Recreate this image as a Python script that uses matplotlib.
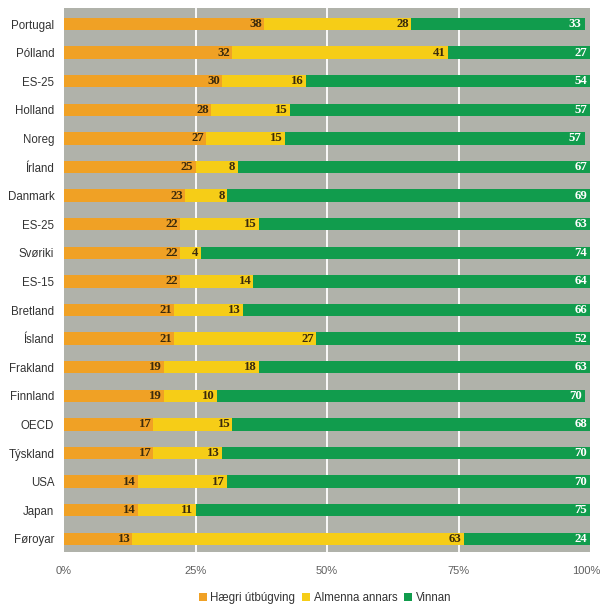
import matplotlib
matplotlib.use("Agg")
import matplotlib.pyplot as plt
import matplotlib.transforms as mtransforms
from matplotlib.patches import Patch

categories = ["Portugal", "Pólland", "ES-25", "Holland", "Noreg", "Írland", "Danmark",
              "ES-25", "Svøriki", "ES-15", "Bretland", "Ísland", "Frakland", "Finnland",
              "OECD", "Týskland", "USA", "Japan", "Føroyar"]
haegri = [38, 32, 30, 28, 27, 25, 23, 22, 22, 22, 21, 21, 19, 19, 17, 17, 14, 14, 13]
almenna = [28, 41, 16, 15, 15, 8, 8, 15, 4, 14, 13, 27, 18, 10, 15, 13, 17, 11, 63]
vinnan = [33, 27, 54, 57, 57, 67, 69, 63, 74, 64, 66, 52, 63, 70, 68, 70, 70, 75, 24]
series_names = ["Hægri útbúgving", "Almenna annars", "Vinnan"]
xticks = [0, 25, 50, 75, 100]
xticklabels = ["0%", "25%", "50%", "75%", "100%"]

c_orange = "#f0a125"
c_yellow = "#f6cd17"
c_green = "#119c4d"
c_bg = "#b0b2aa"
c_dark = "#3a2a0c"

fig = plt.figure(figsize=(6.02, 6.04), dpi=100)
fig.patch.set_facecolor("white")
ax = fig.add_axes([64/602, 52/604, 526/602, 544/604])
ax.set_facecolor(c_bg)

ypos = list(range(len(categories)))
h = 0.43
lefts2 = [a for a in haegri]
lefts3 = [a + b for a, b in zip(haegri, almenna)]
ax.barh(ypos, haegri, height=h, color=c_orange, zorder=3)
ax.barh(ypos, almenna, left=lefts2, height=h, color=c_yellow, zorder=3)
ax.barh(ypos, vinnan, left=lefts3, height=h, color=c_green, zorder=3)

for x in [25, 50, 75]:
    ax.axvline(x, color="white", lw=1.3, zorder=1)

numfont = dict(family="Liberation Serif", fontsize=9.2, fontweight="bold")
for i in ypos:
    e1 = haegri[i]
    e2 = haegri[i] + almenna[i]
    e3 = min(100, e2 + vinnan[i])
    ax.annotate(str(haegri[i]), (e1, i), xytext=(-1.5, 0), textcoords="offset points",
                ha="right", va="center", color=c_dark, zorder=4, **numfont)
    ax.annotate(str(almenna[i]), (e2, i), xytext=(-1.5, 0), textcoords="offset points",
                ha="right", va="center", color=c_dark, zorder=4, **numfont)
    ax.annotate(str(vinnan[i]), (e3, i), xytext=(-2.2, 0), textcoords="offset points",
                ha="right", va="center", color="white", zorder=4, **numfont)

ax.set_xlim(0, 100)
ax.set_ylim(len(categories) - 1 + 0.46, -0.56)
ax.set_yticks(ypos)
ax.set_yticklabels(categories, family="Liberation Sans", fontsize=8.3, color="#333333")
ax.set_xticks(xticks)
ax.set_xticklabels(xticklabels, family="Liberation Sans", fontsize=8.0, color="#606060")
ax.tick_params(axis="both", length=0)
ax.tick_params(axis="y", pad=7)
ax.tick_params(axis="x", pad=10)
for s in ax.spines.values():
    s.set_visible(False)

last = ax.get_xticklabels()[-1]
last.set_transform(last.get_transform() + mtransforms.ScaledTranslation(-4/100, 0, fig.dpi_scale_trans))

handles = [Patch(facecolor=c, edgecolor="none") for c in [c_orange, c_yellow, c_green]]
fig.legend(handles, series_names, loc="center", bbox_to_anchor=(325/602, 1 - 598/604),
           ncol=3, frameon=False, handlelength=0.7, handleheight=0.7, handletextpad=0.3,
           columnspacing=0.6, prop=dict(family="Liberation Sans", size=8.3))
for t in fig.legends[0].get_texts():
    t.set_color("#333333")

fig.savefig("out.png", dpi=100)
